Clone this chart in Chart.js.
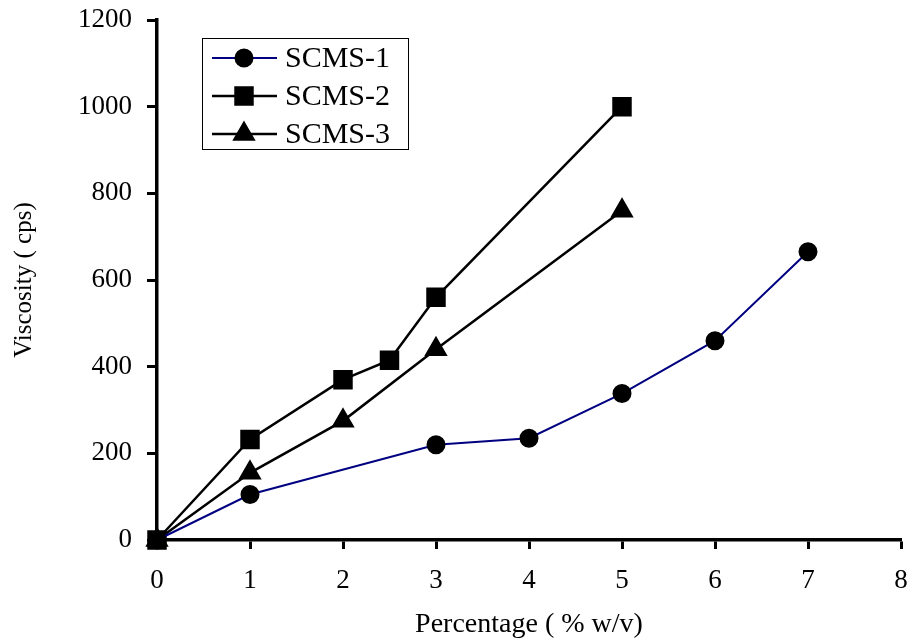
<!DOCTYPE html>
<html>
<head>
<meta charset="utf-8">
<title>Viscosity vs percentage</title>
<script src="https://cdn.jsdelivr.net/npm/chart.js@4/dist/chart.umd.min.js"></script>
<style>
  html, body { margin: 0; padding: 0; background: #fff; overflow: hidden; }
  canvas { display: block; }
</style>
</head>
<body>
<canvas id="chart-01" width="913" height="642"></canvas>
<script>
// viscosity readings (cps) at each concentration (% w/v)
const scms1X = [0, 1, 3, 4, 5, 6, 7];
const scms1Y = [0, 105, 220, 235, 338, 460, 665];
const scms2X = [0, 1, 2, 2.5, 3, 5];
const scms2Y = [0, 232, 370, 415, 560, 1000];
const scms3X = [0, 1, 2, 3, 5];
const scms3Y = [0, 155, 275, 440, 760];

const seriesNames = ['SCMS-1', 'SCMS-2', 'SCMS-3'];
const xTicks = [0, 1, 2, 3, 4, 5, 6, 7, 8];
const yTicks = [0, 200, 400, 600, 800, 1000, 1200];

const serif = 'Liberation Serif, Times New Roman, serif';

function toPoints(xs, ys) {
    return xs.map((x, i) => ({ x: x, y: ys[i] }));
}

// legend box drawn inside the plot, top-left
const boxLegend = {
    id: 'boxLegend',
    afterDraw(chart) {
        const ctx = chart.ctx;
        const left = 202, top = 38, w = 206, h = 111;
        ctx.save();
        ctx.fillStyle = '#fff';
        ctx.fillRect(left, top, w, h);
        ctx.strokeStyle = '#000';
        ctx.lineWidth = 1;
        ctx.strokeRect(left + 0.5, top + 0.5, w, h);
        chart.data.datasets.forEach((ds, i) => {
            const y = 58 + i * 38;
            ctx.strokeStyle = ds.borderColor;
            ctx.lineWidth = ds.borderWidth;
            ctx.beginPath();
            ctx.moveTo(212, y);
            ctx.lineTo(277, y);
            ctx.stroke();
            ctx.fillStyle = '#000';
            ctx.strokeStyle = '#000';
            Chart.helpers.drawPoint(ctx, {
                pointStyle: ds.pointStyle,
                radius: ds.pointRadius,
                borderWidth: 1,
                rotation: 0
            }, 244, y);
            ctx.fillStyle = '#000';
            ctx.font = '30px ' + serif;
            ctx.textBaseline = 'middle';
            ctx.textAlign = 'left';
            ctx.fillText(ds.label, 285, y + 1);
        });
        ctx.restore();
    }
};

const ctx = document.getElementById('chart-01').getContext('2d');

const data = {
    datasets: [{
        label: seriesNames[0],
        data: toPoints(scms1X, scms1Y),
        borderColor: '#000080',
        borderWidth: 2,
        pointStyle: 'circle',
        pointRadius: 8.5,
        pointBackgroundColor: '#000',
        pointBorderColor: '#000',
        clip: false
    },
    {
        label: seriesNames[1],
        data: toPoints(scms2X, scms2Y),
        borderColor: '#000',
        borderWidth: 2.5,
        pointStyle: 'rect',
        pointRadius: 12,
        pointBackgroundColor: '#000',
        pointBorderColor: '#000',
        clip: false
    },
    {
        label: seriesNames[2],
        data: toPoints(scms3X, scms3Y),
        borderColor: '#000',
        borderWidth: 2.5,
        pointStyle: 'triangle',
        pointRadius: 11,
        pointBackgroundColor: '#000',
        pointBorderColor: '#000',
        clip: false
    }
    ]
};

const myChart = new Chart(ctx, {
    type: 'line',
    data: data,
    plugins: [boxLegend],
    options: {
        responsive: false,
        animation: false,
        layout: { autoPadding: false, padding: { left: 0, top: 20, right: 12, bottom: 0 } },
        elements: { line: { tension: 0 } },
        plugins: {
            legend: { display: false },
            tooltip: { enabled: false }
        },
        scales: {
            x: {
                type: 'linear',
                min: xTicks[0],
                max: xTicks[xTicks.length - 1],
                afterBuildTicks: (scale) => { scale.ticks = xTicks.map(v => ({ value: v })); },
                afterFit: (scale) => {
                    scale.height = 102;
                    scale.paddingLeft = 0;
                    scale.paddingRight = 0;
                },
                border: { display: true, color: '#000', width: 3.5 },
                grid: { drawOnChartArea: false, drawTicks: true, tickLength: 9, tickWidth: 3, tickColor: '#000' },
                ticks: { color: '#000', padding: 16, font: { family: serif, size: 27 }, callback: (v) => String(v) },
                title: {
                    display: true,
                    text: 'Percentage ( % w/v)',
                    color: '#000',
                    padding: { top: 0, bottom: 1 },
                    font: { family: serif, size: 28 }
                }
            },
            y: {
                min: yTicks[0],
                max: yTicks[yTicks.length - 1],
                afterBuildTicks: (scale) => { scale.ticks = yTicks.map(v => ({ value: v })); },
                afterFit: (scale) => {
                    scale.width = 157;
                    scale.paddingTop = 0;
                    scale.paddingBottom = 0;
                },
                border: { display: true, color: '#000', width: 3.5 },
                grid: { drawOnChartArea: false, drawTicks: true, tickLength: 10, tickWidth: 3, tickColor: '#000' },
                ticks: { color: '#000', padding: 15, font: { family: serif, size: 27 }, callback: (v) => String(v) },
                title: {
                    display: true,
                    text: 'Viscosity ( cps)',
                    color: '#000',
                    padding: { top: 9, bottom: 0 },
                    font: { family: serif, size: 25 }
                }
            }
        }
    }
});
</script>
</body>
</html>
